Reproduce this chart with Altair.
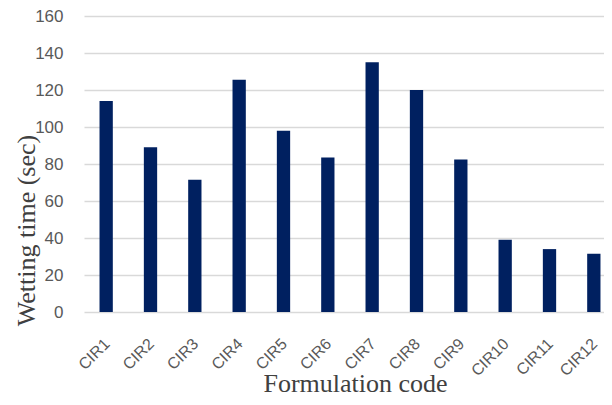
import altair as alt
import pandas as pd

codes = ["CIR1", "CIR2", "CIR3", "CIR4", "CIR5", "CIR6",
         "CIR7", "CIR8", "CIR9", "CIR10", "CIR11", "CIR12"]
wetting_time = [114, 89, 71.5, 125.5, 98, 83.5, 135, 120, 82.5, 39, 34, 31.5]
y_ticks = [0, 20, 40, 60, 80, 100, 120, 140, 160]

df = pd.DataFrame({"code": codes, "time": wetting_time})

chart = alt.Chart(df).mark_bar(color="#002060").encode(
    x=alt.X(
        "code:N",
        sort=codes,
        scale=alt.Scale(range=[0, 532], paddingInner=0.7, paddingOuter=0.35),
        axis=alt.Axis(
            title="Formulation code",
            labelAngle=-45,
            labelAlign="right",
            labelBaseline="middle",
            labelFont="Liberation Sans",
            labelFontSize=16,
            labelColor="#595959",
            labelPadding=29,
            labelOffset=1,
            labelOverlap=False,
            labelBound=False,
            ticks=False,
            domain=False,
            titleFont="Liberation Serif",
            titleFontSize=26,
            titleFontWeight="normal",
            titleColor="#404040",
            titleX=271,
            titleY=79,
            titleBaseline="alphabetic",
            titleAnchor="middle",
            titleAlign="center",
        ),
    ),
    y=alt.Y(
        "time:Q",
        scale=alt.Scale(domain=[0, 160], nice=False),
        axis=alt.Axis(
            title="Wetting time (sec)",
            values=y_ticks,
            labelFont="Liberation Sans",
            labelFontSize=17,
            labelColor="#595959",
            labelPadding=21,
            ticks=False,
            domain=False,
            gridColor="#d9d9d9",
            gridWidth=1.3,
            titleFont="Liberation Serif",
            titleFontSize=26,
            titleFontWeight="normal",
            titleColor="#404040",
            titleAngle=-90,
            titleX=-50,
            titleY=214,
            titleBaseline="alphabetic",
            titleAlign="center",
        ),
    ),
).properties(
    width=520,
    height=296,
    autosize=alt.AutoSizeParams(type="none"),
    padding={"left": 76, "top": 8, "right": 0, "bottom": 85},
).configure_view(stroke=None)

chart.save("out.html", embed_options={"renderer": "svg", "actions": False})
